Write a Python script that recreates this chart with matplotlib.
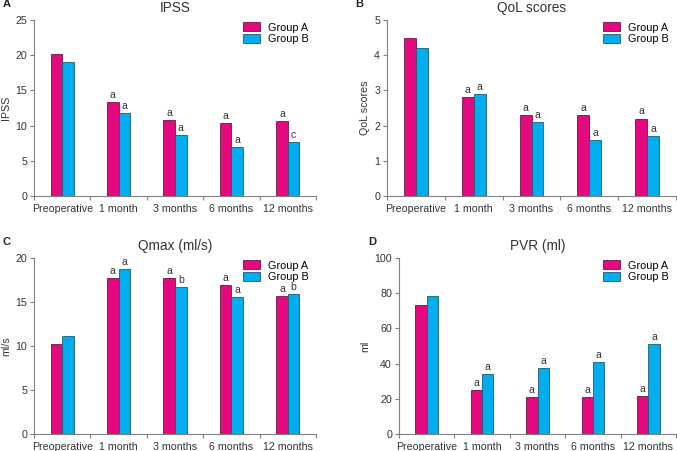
import matplotlib
matplotlib.use("Agg")
import matplotlib.pyplot as plt
import numpy as np

plt.rcParams['font.family'] = ['Liberation Sans', 'DejaVu Sans']

categories = ['Preoperative', '1 month', '3 months', '6 months', '12 months']

ipss_a = [20.2, 13.4, 10.8, 10.4, 10.7]
ipss_b = [19.1, 11.8, 8.7, 7.0, 7.6]
ipss_lab_a = ['', 'a', 'a', 'a', 'a']
ipss_lab_b = ['', 'a', 'a', 'a', 'c']

qol_a = [4.5, 2.8, 2.3, 2.3, 2.2]
qol_b = [4.2, 2.9, 2.1, 1.6, 1.7]
qol_lab_a = ['', 'a', 'a', 'a', 'a']
qol_lab_b = ['', 'a', 'a', 'a', 'a']

qmax_a = [10.2, 17.7, 17.7, 16.9, 15.7]
qmax_b = [11.1, 18.7, 16.7, 15.6, 15.95]
qmax_lab_a = ['', 'a', 'a', 'a', 'a']
qmax_lab_b = ['', 'a', 'b', 'a', 'b']

pvr_a = [73.3, 24.8, 21.2, 20.8, 21.5]
pvr_b = [78.4, 34.1, 37.3, 40.7, 51.1]
pvr_lab_a = ['', 'a', 'a', 'a', 'a']
pvr_lab_b = ['', 'a', 'a', 'a', 'a']

COL_A = '#e5097f'
COL_B = '#00adee'
EDGE_A = '#6e1448'
EDGE_B = '#1d5c78'
AXIS = '#808080'

W, H = 677, 451
fig = plt.figure(figsize=(W / 100, H / 100), dpi=100)


def px_axes(left, right, top, bottom):
    return fig.add_axes([left / W, (H - bottom) / H, (right - left) / W, (bottom - top) / H])


def draw_panel(ax, letter, title, ylabel, va, vb, la, lb, ymax, ystep):
    x = np.arange(len(categories))
    w = 0.205
    ax.bar(x - w / 2, va, w, color=COL_A, edgecolor=EDGE_A, linewidth=0.6, label='Group A')
    ax.bar(x + w / 2, vb, w, color=COL_B, edgecolor=EDGE_B, linewidth=0.6, label='Group B')
    off = ymax * 0.012
    for i in range(len(categories)):
        if la[i]:
            ax.text(x[i] - w / 2, va[i] + off, la[i], ha='center', va='bottom', fontsize=7.5, color='#333333')
        if lb[i]:
            ax.text(x[i] + w / 2, vb[i] + off, lb[i], ha='center', va='bottom', fontsize=7.5, color='#333333')
    ax.set_xlim(-0.5, len(categories) - 0.5)
    ax.set_ylim(0, ymax)
    ax.set_yticks(np.arange(0, ymax + 0.001, ystep))
    ax.set_xticks(np.arange(-0.5, len(categories)))
    ax.set_xticklabels([])
    ax.set_xticks(x, minor=True)
    ax.set_xticklabels(categories, minor=True)
    ax.tick_params(axis='x', which='major', length=3, color=AXIS, width=0.8)
    ax.tick_params(axis='x', which='minor', length=0, labelsize=7.7, pad=6, labelcolor='#333333')
    ax.tick_params(axis='y', length=3, color=AXIS, width=0.8, labelsize=7.7, labelcolor='#333333', pad=2)
    for s in ['top', 'right']:
        ax.spines[s].set_visible(False)
    for s in ['left', 'bottom']:
        ax.spines[s].set_color(AXIS)
        ax.spines[s].set_linewidth(0.8)
    ax.set_ylabel(ylabel, fontsize=7.7, color='#333333', labelpad=3)
    ax.set_title(title, fontsize=9.8, color='#333333', pad=6)
    ax.text(-0.11, 1.075, letter, transform=ax.transAxes, fontsize=8, fontweight='bold', color='#222222')
    ax.legend(loc='upper right', bbox_to_anchor=(1.0, 1.03), frameon=False, fontsize=7.8,
              handlelength=1.6, handleheight=0.9, labelspacing=0.15, handletextpad=0.7, borderaxespad=0.3)


ax1 = px_axes(34, 316, 20, 196)
draw_panel(ax1, 'A', 'IPSS', 'IPSS', ipss_a, ipss_b, ipss_lab_a, ipss_lab_b, 25, 5)

ax2 = px_axes(387, 676, 20, 196)
draw_panel(ax2, 'B', 'QoL scores', 'QoL scores', qol_a, qol_b, qol_lab_a, qol_lab_b, 5, 1)

ax3 = px_axes(34, 316, 258, 434)
draw_panel(ax3, 'C', 'Qmax (ml/s)', 'ml/s', qmax_a, qmax_b, qmax_lab_a, qmax_lab_b, 20, 5)

ax4 = px_axes(399, 676, 258, 434)
draw_panel(ax4, 'D', 'PVR (ml)', 'ml', pvr_a, pvr_b, pvr_lab_a, pvr_lab_b, 100, 20)

fig.savefig('out.png', dpi=100)
